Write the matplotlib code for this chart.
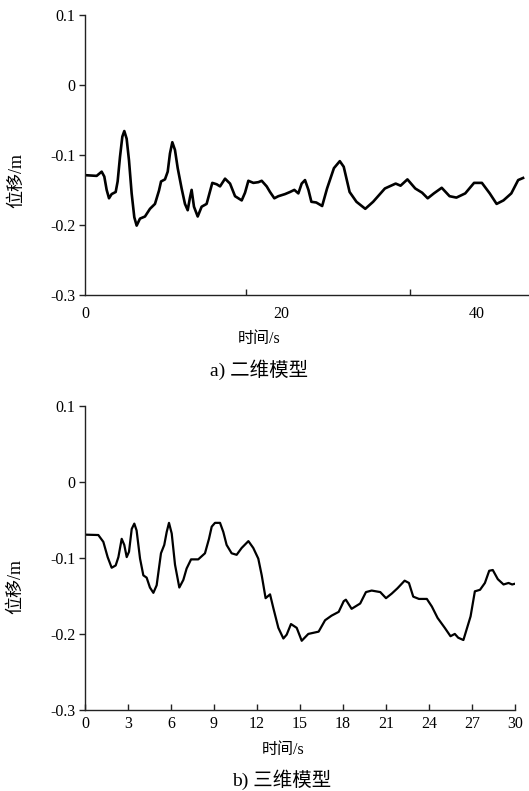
import matplotlib
matplotlib.use("Agg")
import matplotlib.pyplot as plt
from matplotlib.ticker import FixedLocator

# ---- data ----
t_a = [0, 1.19, 1.70, 1.97, 2.21, 2.45, 2.72, 3.13, 3.33, 3.57, 3.81, 4.01, 4.25, 4.49,
       4.76, 5.03, 5.27, 5.61, 6.12, 6.63, 7.14, 7.55, 7.76, 8.16, 8.44, 8.67, 8.91, 9.18,
       9.46, 9.86, 10.2, 10.48, 10.71, 10.88, 11.12, 11.5, 11.9, 12.41, 12.99, 13.44,
       13.78, 14.29, 14.8, 15.31, 15.99, 16.33, 16.67, 17.18, 17.69, 18.03, 18.54, 18.88,
       19.32, 19.73, 20.41, 20.92, 21.36, 21.77, 22.11, 22.45, 22.8, 23.1,
       23.6, 24.2, 24.7, 25.4, 26.0, 26.4, 27.0, 27.7, 28.6, 29.4, 30.6, 31.7, 32.2, 32.9,
       33.7, 34.4, 34.97, 35.6, 36.4, 37.2, 37.9, 38.8, 39.7, 40.5, 41.3, 42.0, 42.7, 43.5,
       44.2, 44.7]
d_a = [-0.129, -0.130, -0.124, -0.131, -0.150, -0.162, -0.156, -0.153, -0.138, -0.103,
       -0.074, -0.066, -0.077, -0.108, -0.155, -0.189, -0.201, -0.191, -0.188, -0.177,
       -0.170, -0.151, -0.138, -0.135, -0.124, -0.098, -0.082, -0.093, -0.119, -0.148,
       -0.170, -0.179, -0.161, -0.150, -0.174, -0.188, -0.174, -0.170, -0.140, -0.142,
       -0.145, -0.134, -0.141, -0.159, -0.165, -0.154, -0.137, -0.140, -0.139, -0.137,
       -0.145, -0.153, -0.162, -0.159, -0.156, -0.153, -0.150, -0.155, -0.141, -0.136,
       -0.150, -0.167, -0.168, -0.173, -0.148, -0.119, -0.109, -0.117,
       -0.153, -0.167, -0.177, -0.167, -0.148, -0.141, -0.144, -0.135, -0.148, -0.154,
       -0.162, -0.155, -0.147, -0.159, -0.161, -0.155, -0.140, -0.140, -0.155, -0.170,
       -0.165, -0.155, -0.136, -0.133]

t_b = [0, 0.93, 1.28, 1.58, 1.86, 2.14, 2.33, 2.56, 2.74, 2.91, 3.07, 3.26, 3.44, 3.6,
       3.84, 4.07, 4.3, 4.53, 4.77, 5.0, 5.3, 5.53, 5.7, 5.86, 6.05, 6.28, 6.58, 6.86,
       7.09, 7.4, 7.9, 8.37, 8.65, 8.84, 9.07, 9.42, 9.65, 9.88, 10.23, 10.58, 10.93, 11.4,
       11.74, 12.09, 12.33, 12.6, 12.91, 13.14, 13.49, 13.84, 14.07, 14.37, 14.77, 15.12,
       15.58, 16.3, 16.75, 17.2, 17.7, 18.05, 18.2, 18.6,
       19.2, 19.6, 20.0, 20.6, 21.0, 21.4, 21.8, 22.3, 22.6, 22.9, 23.3, 23.85, 24.2, 24.6,
       25.1, 25.5, 25.8, 26.04, 26.4, 26.9, 27.2, 27.56, 27.9, 28.2, 28.45, 28.8, 29.2,
       29.55, 29.8, 30.0]
d_b = [-0.0695, -0.070, -0.079, -0.099, -0.113, -0.110, -0.099, -0.075, -0.083, -0.099,
       -0.092, -0.062, -0.055, -0.064, -0.101, -0.123, -0.126, -0.139, -0.146, -0.136,
       -0.094, -0.083, -0.066, -0.054, -0.068, -0.109, -0.139, -0.129, -0.114, -0.102,
       -0.102, -0.094, -0.075, -0.059, -0.054, -0.054, -0.066, -0.083, -0.094, -0.096,
       -0.087, -0.078, -0.087, -0.101, -0.123, -0.153, -0.148, -0.166, -0.192, -0.206,
       -0.201, -0.187, -0.192, -0.209,
       -0.200, -0.197, -0.182, -0.176, -0.171, -0.157, -0.155, -0.167,
       -0.160, -0.145, -0.143, -0.145, -0.153, -0.147, -0.140, -0.130, -0.133, -0.151,
       -0.154, -0.154, -0.164, -0.179, -0.192, -0.203, -0.200, -0.205, -0.208, -0.177,
       -0.144, -0.142, -0.133, -0.117, -0.116, -0.128, -0.135, -0.133, -0.135, -0.134]

y_ticks = [0.1, 0, -0.1, -0.2, -0.3]
y_tick_labels = ["0.1", "0", "-0.1", "-0.2", "-0.3"]
xa_ticks = [0, 20, 40]
xa_marks = [16.4, 33.2]
xb_ticks = [0, 3, 6, 9, 12, 15, 18, 21, 24, 27, 30]

ylabel = "位移/m"
xlabel = "时间/s"
cap_a = "a) 二维模型"
cap_b = "b) 三维模型"

FAM = ["Liberation Serif", "Noto Sans CJK SC"]
plt.rcParams["font.family"] = FAM

W, H = 529, 791
fig = plt.figure(figsize=(W / 100, H / 100), dpi=100)

TICK_FS = 11.5


def box(l, t, r, b):
    return [l / W, 1 - b / H, (r - l) / W, (b - t) / H]


def style(ax):
    for s in ("top", "right"):
        ax.spines[s].set_visible(False)
    for s in ("left", "bottom"):
        ax.spines[s].set_linewidth(1.0)
        ax.spines[s].set_color("#222222")
    ax.set_yticks(y_ticks)
    ax.set_yticklabels(y_tick_labels)
    ax.set_ylim(-0.3, 0.1)
    ax.tick_params(axis="y", direction="out", length=4, width=1, labelsize=TICK_FS,
                   pad=3, color="#222222")
    ax.set_facecolor("white")


# top chart
ax1 = fig.add_axes(box(85, 14.7, 529, 295))
ax1.plot(t_a, d_a, color="black", lw=1.9, solid_joinstyle="round")
ax1.set_xlim(0, 444 / 9.8)
style(ax1)
ax1.set_xticks(xa_ticks)
ax1.set_xticklabels([str(v) for v in xa_ticks])
ax1.xaxis.set_minor_locator(FixedLocator(xa_marks))
ax1.tick_params(axis="x", which="major", length=0, labelsize=TICK_FS, pad=8)
ax1.tick_params(axis="x", which="minor", direction="in", length=4, width=1, color="#222222")

# bottom chart
ax2 = fig.add_axes(box(85, 405.7, 515, 710))
ax2.plot(t_b, d_b, color="black", lw=1.6, solid_joinstyle="round")
ax2.set_xlim(0, 30)
style(ax2)
ax2.set_xticks(xb_ticks)
ax2.set_xticklabels([str(v) for v in xb_ticks])
ax2.tick_params(axis="x", direction="in", length=4, width=1, labelsize=TICK_FS, pad=4,
                color="#222222")

# labels
fig.text(17 / W, 1 - 180 / H, ylabel, rotation=90, ha="center", va="center", fontsize=13)
fig.text(16 / W, 1 - 587 / H, ylabel, rotation=90, ha="center", va="center", fontsize=13)
fig.text(259 / W, 1 - 339 / H, xlabel, ha="center", va="center", fontsize=11.5)
fig.text(283 / W, 1 - 750 / H, xlabel, ha="center", va="center", fontsize=11.5)
fig.text(259 / W, 1 - 370 / H, cap_a, ha="center", va="center", fontsize=14)
fig.text(282 / W, 1 - 780 / H, cap_b, ha="center", va="center", fontsize=14)

fig.savefig("out.png", dpi=100, facecolor="white")
